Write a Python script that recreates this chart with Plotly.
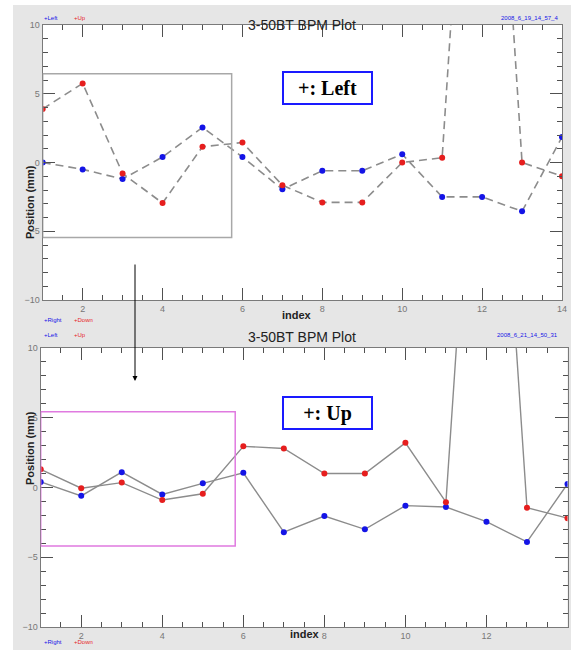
import plotly.graph_objects as go

W, H = 571, 650

index = list(range(1, 15))
top_left = [0.0, -0.5, -1.2, 0.4, 2.55, 0.4, -1.95, -0.6, -0.6, 0.6, -2.5, -2.5, -3.55, 1.85]
top_up = [3.9, 5.75, -0.8, -2.95, 1.15, 1.45, -1.65, -2.9, -2.9, 0.0, 0.35, 45, 0.0, -1.0]
bot_right = [0.4, -0.6, 1.1, -0.5, 0.3, 1.05, -3.2, -2.05, -3.0, -1.3, -1.4, -2.45, -3.9, 0.25]
bot_down = [1.3, -0.05, 0.35, -0.9, -0.45, 2.95, 2.8, 1.0, 1.0, 3.2, -1.05, 42, -1.45, -2.2]

titles = ["3-50BT BPM Plot", "3-50BT BPM Plot"]
stamps = ["2008_6_19_14_57_4", "2008_6_21_14_50_31"]

BLUE = "#1414e6"
RED = "#e61e1e"
LINE = "#8c8c8c"
AXC = "#505050"

def px(x):
    return x / W

def py(y):
    return 1 - y / H

fig = go.Figure()

# invisible carriers so the minor-tick overlay axes get drawn
for xa, ya, yv in [("x3", "y", top_left), ("x", "y3", top_left),
                   ("x4", "y2", bot_right), ("x2", "y4", bot_right)]:
    fig.add_trace(go.Scatter(x=index, y=yv, mode="markers", xaxis=xa, yaxis=ya,
                             marker=dict(opacity=0, size=1), hoverinfo="skip"))

fig.add_trace(go.Scatter(x=index, y=top_left, mode="lines+markers", xaxis="x", yaxis="y",
                         line=dict(color=LINE, width=1.6, dash="8px,5px"),
                         marker=dict(color=BLUE, size=6)))
fig.add_trace(go.Scatter(x=index, y=top_up, mode="lines+markers", xaxis="x", yaxis="y",
                         line=dict(color=LINE, width=1.6, dash="8px,5px"),
                         marker=dict(color=RED, size=6)))
fig.add_trace(go.Scatter(x=index, y=bot_right, mode="lines+markers", xaxis="x2", yaxis="y2",
                         line=dict(color=LINE, width=1.4),
                         marker=dict(color=BLUE, size=6)))
fig.add_trace(go.Scatter(x=index, y=bot_down, mode="lines+markers", xaxis="x2", yaxis="y2",
                         line=dict(color=LINE, width=1.4),
                         marker=dict(color=RED, size=6)))

tickfont = dict(family="Liberation Sans, Arial", size=9, color="#777777")

def xax(domain, anchor):
    return dict(domain=domain, anchor=anchor, range=[1, 14], tick0=0, dtick=2,
                ticks="inside", ticklen=12, tickcolor=AXC, tickwidth=1.2,
                showline=True, linecolor="#7a7a7a", linewidth=1.2, mirror="ticks",
                showgrid=False, zeroline=False, tickfont=tickfont, automargin=False)

def yax(domain, anchor):
    return dict(domain=domain, anchor=anchor, range=[-10, 10], tick0=0, dtick=5,
                ticks="inside", ticklen=12, tickcolor=AXC, tickwidth=1.2,
                showline=True, linecolor="#7a7a7a", linewidth=1.2, mirror="ticks",
                showgrid=False, zeroline=False, tickfont=tickfont, automargin=False)

def xminor(over, anchor, domain):
    return dict(overlaying=over, anchor=anchor, domain=domain, range=[1, 14], tick0=0, dtick=0.5,
                ticks="inside", ticklen=5, tickcolor=AXC, tickwidth=1.2, mirror="ticks",
                showline=False, showticklabels=False, showgrid=False, zeroline=False,
                automargin=False)

def yminor(over, anchor, domain):
    return dict(overlaying=over, anchor=anchor, domain=domain, range=[-10, 10], tick0=0, dtick=1,
                ticks="inside", ticklen=5, tickcolor=AXC, tickwidth=1.2, mirror="ticks",
                showline=False, showticklabels=False, showgrid=False, zeroline=False,
                automargin=False)

dx1 = [px(42.7), px(562)]
dy1 = [py(300), py(25)]
dx2 = [px(40.7), px(567.5)]
dy2 = [py(627), py(348)]

fig.update_layout(
    template="none",
    width=W, height=H, margin=dict(l=0, r=0, t=0, b=0, pad=0), autosize=False,
    paper_bgcolor="#e6e6e6", plot_bgcolor="white", showlegend=False,
    xaxis=xax(dx1, "y"),
    yaxis=yax(dy1, "x"),
    xaxis2=xax(dx2, "y2"),
    yaxis2=yax(dy2, "x2"),
    xaxis3=xminor("x", "y", dx1),
    yaxis3=yminor("y", "x", dy1),
    xaxis4=xminor("x2", "y2", dx2),
    yaxis4=yminor("y2", "x2", dy2),
)

shapes = [
    dict(type="rect", xref="paper", yref="paper", x0=0, x1=px(13), y0=0, y1=1,
         fillcolor="white", line=dict(width=0), layer="below"),
    dict(type="rect", xref="paper", yref="paper", x0=0, x1=1, y0=py(5), y1=1,
         fillcolor="white", line=dict(width=0), layer="below"),
    dict(type="rect", xref="x", yref="y", x0=1, x1=5.73, y0=-5.45, y1=6.45,
         line=dict(color="#a8a8a8", width=1.5)),
    dict(type="rect", xref="x2", yref="y2", x0=1, x1=5.8, y0=-4.2, y1=5.43,
         line=dict(color="#e07ae0", width=1.5)),
]
fig.update_layout(shapes=shapes)

ann = []
small = dict(family="Liberation Sans, Arial", size=6)
for ty, title, stamp in [(15, titles[0], stamps[0]), (337, titles[1], stamps[1])]:
    ann.append(dict(text=title, x=px(302), y=py(ty), xref="paper", yref="paper",
                    showarrow=False, font=dict(family="Liberation Sans, Arial", size=14, color="#222222")))
    ann.append(dict(text=stamp, x=px(560), y=py(ty - 2), xref="paper", yref="paper", xanchor="right",
                    showarrow=False, font=dict(small, color=BLUE)))
    ann.append(dict(text="+Left", x=px(42), y=py(ty - 2), xref="paper", yref="paper", xanchor="left",
                    showarrow=False, font=dict(small, color=BLUE)))
    ann.append(dict(text="+Up", x=px(72), y=py(ty - 2), xref="paper", yref="paper", xanchor="left",
                    showarrow=False, font=dict(small, color=RED)))

for ly in [320, 647]:
    ann.append(dict(text="+Right", x=px(42), y=py(ly), xref="paper", yref="paper", xanchor="left",
                    showarrow=False, font=dict(small, color=BLUE)))
    ann.append(dict(text="+Down", x=px(72), y=py(ly), xref="paper", yref="paper", xanchor="left",
                    showarrow=False, font=dict(small, color=RED)))

for ix, iy in [(297, 315), (305, 642)]:
    ann.append(dict(text="<b>index</b>", x=px(ix), y=py(iy), xref="paper", yref="paper",
                    showarrow=False, font=dict(family="Liberation Sans, Arial", size=11, color="#222222")))
for cy in [163, 487]:
    ann.append(dict(text="<b>Position (mm)</b>", x=px(22), y=py(cy), xref="paper", yref="paper",
                    textangle=-90, showarrow=False,
                    font=dict(family="Liberation Sans, Arial", size=11, color="#222222")))

for label, cy in [("<b>+: Left</b>", 71), ("<b>+: Up</b>", 413)]:
    ann.append(dict(text=label, x=px(327.5), y=py(cy), xref="paper", yref="paper",
                    showarrow=False, width=87, height=30, bgcolor="white",
                    bordercolor="#1a1aff", borderwidth=2, borderpad=0,
                    font=dict(family="Liberation Serif, Times New Roman", size=20, color="black")))

ann.append(dict(text="", x=px(135), y=py(381), xref="paper", yref="paper",
                showarrow=True, ax=0, ay=-118, axref="pixel", ayref="pixel",
                arrowhead=2, arrowsize=1, arrowwidth=1, arrowcolor="black"))

fig.update_layout(annotations=ann)

fig.write_html("out.html", config={"displayModeBar": False},
               post_script="document.body.style.margin='0px';document.body.style.overflow='hidden';")
